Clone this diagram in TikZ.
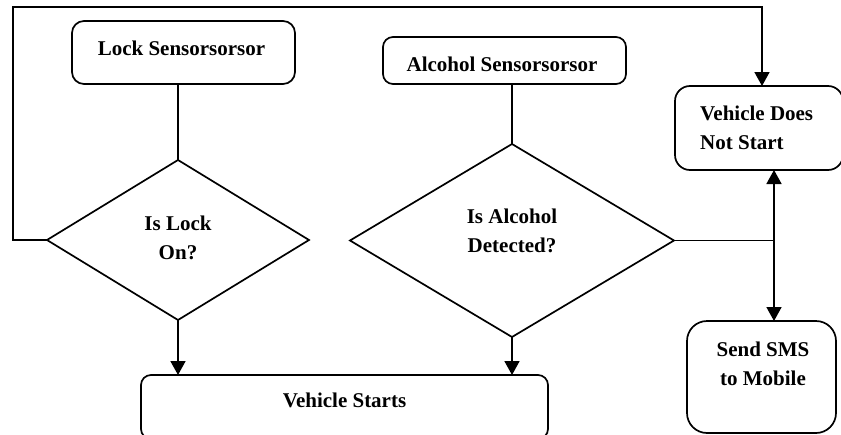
\documentclass[tikz,border=0pt]{standalone}
\usepackage{fontspec}
\setmainfont{Liberation Serif}
\usetikzlibrary{shapes.geometric,arrows.meta}
\begin{document}
\begin{tikzpicture}[x=1pt,y=-1pt,
  box/.style={draw,line width=1.7pt,rounded corners=#1,inner sep=0pt,outer sep=0pt},
  box/.default=10pt,
  dia/.style={draw,diamond,line width=1.7pt,inner sep=0pt,outer sep=0pt},
  txt/.style={font=\fontsize{21}{28.5}\selectfont\bfseries,inner sep=0pt,anchor=base,align=center},
  conn/.style={line width=1.7pt},
  arr/.style={line width=1.7pt,-{Triangle[length=14pt,width=15pt]}}]
\useasboundingbox (0,0) rectangle (841,434);
\clip (0,0) rectangle (841,434);
\fill[white] (0,0) rectangle (841,434);
% boxes
\node[box=12pt,minimum width=223pt,minimum height=63pt] (lock) at (183.5,52.5) {};
\node[box=10pt,minimum width=243pt,minimum height=47pt] (alc) at (504.5,60.5) {};
\node[box=15pt,minimum width=168pt,minimum height=84pt] (vdns) at (759,128) {};
\node[box=20pt,minimum width=149pt,minimum height=112pt] (sms) at (761.5,377) {};
\node[box=10pt,minimum width=407pt,minimum height=64pt] (vs) at (344.5,407) {};
\node[dia,minimum width=262pt,minimum height=160pt] (lockD) at (178,240) {};
\node[dia,minimum width=324pt,minimum height=193pt] (alcD) at (512,240.5) {};
% texts
\node[txt] (tlock) at (181.5,55) {Lock Sensorsorsor};
\node[txt] (talc) at (502,71) {Alcohol Sensorsorsor};
\node[txt,align=left,anchor=base west] (tvdns) at (700,149) {Vehicle Does\\Not Start};
\node[txt] (tsms) at (763,385) {Send SMS\\to Mobile};
\node[txt] (tvs) at (344.5,407) {Vehicle Starts};
\node[txt] (tlockD) at (178,259) {Is Lock\\On?};
\node[txt] (talcD) at (512,252) {Is Alcohol\\Detected?};
% connectors
\coordinate (fbA) at (13,240);
\coordinate (fbB) at (13,7);
\coordinate (fbC) at (762,7);
\draw[arr] (lockD.west) -- (fbA) -- (fbB) -- (fbC) -- (fbC |- vdns.north);
\draw[conn] (lockD.north |- lock.south) -- (lockD.north);
\draw[conn] (alcD.north |- alc.south) -- (alcD.north);
\draw[arr] (lockD.south) -- (lockD.south |- vs.north);
\draw[arr] (alcD.south) -- (alcD.south |- vs.north);
\coordinate (j) at (774,240.5);
\draw[conn] (alcD.east) -- (j);
\draw[arr] (j) -- (j |- vdns.south);
\draw[arr] (j) -- (j |- sms.north);
\end{tikzpicture}
\end{document}
